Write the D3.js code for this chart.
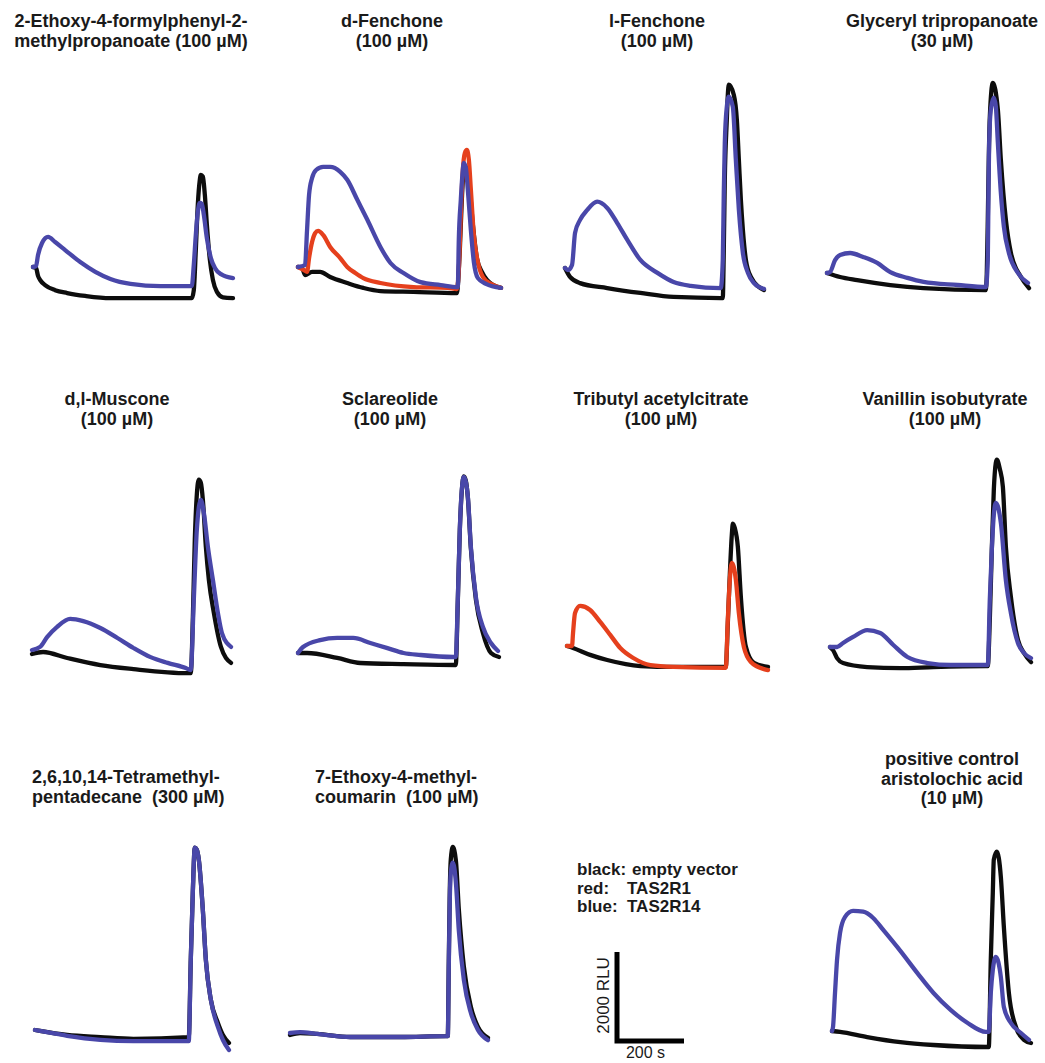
<!DOCTYPE html>
<html>
<head>
<meta charset="utf-8">
<script src="https://cdn.jsdelivr.net/npm/d3@7"></script>
<style>
  body { margin: 0; background: #fff; }
  text { font-family: "Liberation Sans", Arial, sans-serif; fill: #1a1a1a; white-space: pre; }
</style>
</head>
<body>
<svg id="chart" width="1045" height="1063"></svg>
<script>
// calcium traces, [time (s), signal (RLU) relative to first reading]
// black = empty vector, red = TAS2R1, blue = TAS2R14

// 2-Ethoxy-4-formylphenyl-2-methylpropanoate
const ethoxyFormylEmpty = [[0,0],[9,-20],[15,-200],[21,-290],[36,-405],[66,-520],[102,-585],[156,-650],[231,-700],[351,-700],[474,-700],[480,-520],[486,380],[492,1400],[498,1960],[501,2070],[507,2030],[513,1620],[519,950],[528,160],[537,-290],[549,-560],[567,-680],[597,-700]];
const ethoxyFormylR14 = [[0,0],[9,20],[15,270],[27,540],[45,675],[66,560],[96,380],[141,110],[186,-110],[231,-270],[291,-380],[381,-430],[474,-430],[480,50],[486,720],[492,1240],[498,1440],[504,1420],[510,1170],[519,650],[531,200],[543,-20],[561,-160],[597,-250]];

// d-Fenchone
const dFenchoneEmpty = [[0,0],[12,-20],[21,-180],[42,-110],[66,-110],[96,-225],[147,-360],[195,-470],[246,-540],[345,-560],[474,-585],[483,380],[489,1510],[495,2190],[501,2250],[510,1960],[522,950],[534,200],[549,-110],[564,-290],[582,-400],[606,-470]];
const dFenchoneR1 = [[0,0],[18,-70],[27,-110],[33,200],[42,560],[51,760],[60,810],[75,720],[96,450],[126,200],[147,0],[171,-135],[195,-250],[246,-360],[345,-450],[447,-470],[474,-495],[480,-70],[486,1170],[492,2180],[498,2560],[504,2630],[510,2410],[516,1740],[525,720],[537,110],[552,-225],[576,-380],[606,-470]];
const dFenchoneR14 = [[0,0],[21,45],[27,830],[33,1620],[42,2000],[54,2180],[75,2250],[96,2250],[126,2140],[147,1960],[177,1510],[207,1060],[246,450],[276,90],[315,-135],[366,-340],[426,-405],[477,-450],[480,610],[486,1510],[492,2180],[495,2340],[501,2230],[507,1730],[516,830],[525,110],[537,-250],[561,-380],[606,-470]];

// l-Fenchone
const lFenchoneEmpty = [[0,0],[15,-200],[45,-340],[126,-450],[225,-560],[324,-650],[465,-675],[471,-675],[474,405],[477,1980],[483,3330],[486,3890],[489,4120],[504,3890],[513,3330],[519,2430],[525,1530],[531,855],[540,180],[555,-200],[594,-495]];
const lFenchoneR14 = [[0,0],[9,-45],[21,70],[30,790],[45,1080],[66,1300],[96,1490],[126,1350],[156,1010],[186,630],[225,180],[276,-110],[324,-315],[375,-400],[465,-450],[471,180],[474,1690],[477,2810],[483,3620],[489,3850],[501,3620],[510,2430],[519,1310],[531,340],[546,-110],[564,-340],[594,-470]];

// Glyceryl tripropanoate
const glycerylEmpty = [[0,0],[39,-90],[90,-160],[189,-270],[288,-340],[474,-385],[477,0],[480,1200],[483,2600],[486,3500],[495,4270],[510,3670],[519,2540],[534,1190],[549,450],[579,-90],[603,-340]];
const glycerylR14 = [[0,0],[9,20],[24,290],[39,405],[69,450],[108,360],[150,225],[189,20],[240,-110],[288,-200],[390,-270],[474,-315],[480,290],[482,1800],[484,2900],[489,3670],[498,3940],[504,3740],[510,2930],[519,1800],[528,1040],[543,450],[570,0],[600,-225]];

// d,l-Muscone
const musconeEmpty = [[0,-90],[33,-45],[105,-180],[204,-340],[303,-430],[465,-520],[474,-520],[480,675],[486,2475],[492,3490],[498,3830],[504,3760],[510,3380],[519,2320],[528,1575],[543,830],[564,70],[594,-290]];
const musconeR14 = [[0,0],[24,70],[45,290],[75,520],[114,700],[153,650],[204,495],[255,270],[303,45],[354,-160],[405,-290],[459,-405],[474,-450],[483,1125],[492,2700],[504,3375],[513,3080],[525,2320],[540,1575],[555,830],[567,380],[594,70]];

// Sclareolide
const sclareolideEmpty = [[0,0],[27,0],[117,-110],[186,-225],[315,-250],[471,-270],[477,1150],[483,2750],[489,3650],[495,3970],[501,3870],[507,3500],[516,2350],[531,1200],[552,450],[576,0],[600,-90]];
const sclareolideR14 = [[0,0],[15,135],[66,290],[117,340],[165,340],[216,225],[267,110],[315,0],[366,-45],[465,-90],[471,-90],[477,1190],[483,2770],[489,3670],[495,3960],[501,3850],[507,3510],[516,2385],[531,1260],[552,585],[576,225],[597,45]];

// Tributyl acetylcitrate
const tributylEmpty = [[0,0],[18,-45],[69,-200],[120,-315],[219,-450],[318,-470],[474,-470],[480,500],[486,1600],[492,2500],[495,2750],[501,2650],[510,2230],[519,1100],[534,-20],[558,-380],[600,-470]];
const tributylR1 = [[0,0],[15,0],[18,290],[24,740],[39,900],[69,810],[99,540],[129,250],[159,-45],[198,-270],[249,-430],[318,-470],[474,-490],[480,585],[486,1485],[492,1870],[504,1490],[513,740],[528,-20],[549,-360],[588,-520],[600,-540]];

// Vanillin isobutyrate
const vanillinEmpty = [[0,0],[9,-70],[21,-250],[39,-360],[111,-450],[210,-475],[309,-450],[465,-430],[471,-430],[477,600],[483,2180],[489,3530],[495,4140],[498,4210],[507,4000],[516,3600],[525,2250],[540,1125],[561,160],[579,-135],[600,-340]];
const vanillinR14 = [[0,0],[21,0],[39,90],[69,225],[111,380],[150,315],[189,45],[231,-225],[291,-360],[360,-405],[471,-405],[477,1060],[483,2180],[489,2970],[495,3240],[510,2790],[525,1500],[540,760],[561,90],[579,-135],[600,-250]];

// 2,6,10,14-Tetramethylpentadecane
const tetramethylEmpty = [[0,0],[15,-20],[96,-110],[195,-160],[294,-200],[459,-160],[465,1575],[471,3080],[477,4095],[483,4050],[489,3825],[501,2700],[510,1575],[525,675],[546,160],[561,-110],[579,-290]];
const tetramethylR14 = [[0,0],[15,-20],[96,-130],[195,-220],[294,-250],[459,-250],[465,1575],[471,3080],[477,4095],[483,4050],[489,3825],[501,2700],[510,1575],[525,675],[546,70],[561,-225],[579,-450]];

// 7-Ethoxy-4-methylcoumarin
const coumarinEmpty = [[0,-45],[30,0],[81,-20],[180,-90],[330,-90],[465,-70],[471,-70],[474,1600],[477,3200],[480,3900],[486,4180],[495,3890],[504,2770],[519,1490],[540,585],[561,135],[591,-110]];
const coumarinR14 = [[0,0],[30,20],[81,-20],[180,-90],[330,-90],[465,-70],[471,-70],[474,1500],[477,3000],[480,3600],[486,3830],[495,3400],[504,2300],[519,1190],[540,450],[561,70],[591,-160]];

// positive control, aristolochic acid
const aristolochicEmpty = [[0,0],[24,-20],[105,-135],[204,-250],[303,-315],[465,-360],[468,-360],[474,1600],[480,3100],[483,3850],[492,4030],[504,3465],[513,2340],[528,855],[549,90],[573,-200],[594,-270]];
const aristolochicR14 = [[0,0],[3,90],[9,855],[15,1600],[24,2205],[39,2565],[63,2700],[93,2680],[123,2540],[153,2270],[204,1800],[255,1300],[303,855],[354,475],[405,180],[459,-20],[468,-20],[474,855],[480,1370],[489,1665],[504,1215],[513,540],[534,180],[564,-45],[588,-200]];

const titles = [
  ["2-Ethoxy-4-formylphenyl-2-", "methylpropanoate (100 µM)"],
  ["d-Fenchone", "(100 µM)"],
  ["l-Fenchone", "(100 µM)"],
  ["Glyceryl tripropanoate", "(30 µM)"],
  ["d,l-Muscone", "(100 µM)"],
  ["Sclareolide", "(100 µM)"],
  ["Tributyl acetylcitrate", "(100 µM)"],
  ["Vanillin isobutyrate", "(100 µM)"],
  ["2,6,10,14-Tetramethyl-", "pentadecane  (300 µM)"],
  ["7-Ethoxy-4-methyl-", "coumarin  (100 µM)"],
  ["positive control", "aristolochic acid", "(10 µM)"]
];

// [empty vector, TAS2R1, TAS2R14] per panel
const traces = [
  [ethoxyFormylEmpty, null, ethoxyFormylR14],
  [dFenchoneEmpty, dFenchoneR1, dFenchoneR14],
  [lFenchoneEmpty, null, lFenchoneR14],
  [glycerylEmpty, null, glycerylR14],
  [musconeEmpty, null, musconeR14],
  [sclareolideEmpty, null, sclareolideR14],
  [tributylEmpty, tributylR1, null],
  [vanillinEmpty, null, vanillinR14],
  [tetramethylEmpty, null, tetramethylR14],
  [coumarinEmpty, null, coumarinR14],
  [aristolochicEmpty, null, aristolochicR14]
];

const legendLines = [["black:", "empty vector"], ["red:", "TAS2R1"], ["blue:", "TAS2R14"]];
const scaleBar = { rlu: 2000, seconds: 200 };

// layout: trace origin (x, y) and title anchor
const layout = [
  {x: 33,  y: 267,  tx: 131, ty: 27,  anchor: "middle"},
  {x: 298, y: 267,  tx: 392, ty: 27,  anchor: "middle"},
  {x: 565, y: 268,  tx: 657, ty: 27,  anchor: "middle"},
  {x: 827, y: 273,  tx: 942, ty: 27,  anchor: "middle"},
  {x: 32,  y: 650,  tx: 117, ty: 405, anchor: "middle"},
  {x: 298, y: 653,  tx: 390, ty: 405, anchor: "middle"},
  {x: 567, y: 646,  tx: 661, ty: 405, anchor: "middle"},
  {x: 830, y: 647,  tx: 945, ty: 405, anchor: "middle"},
  {x: 35,  y: 1030, tx: 32,  ty: 783, anchor: "start"},
  {x: 290, y: 1033, tx: 315, ty: 783, anchor: "start"},
  {x: 832, y: 1031, tx: 952, ty: 765, anchor: "middle"}
];

const colors = ["#0d0d0d", "#e5401d", "#4947a9"];

const svg = d3.select("#chart");

// shared scales: 200 s = 67 px, 2000 RLU = 89 px
const x = d3.scaleLinear().domain([0, 200]).range([0, 67]);
const y = d3.scaleLinear().domain([0, 2000]).range([0, -89]);

const line = d3.line()
  .x(d => x(d[0]))
  .y(d => y(d[1]))
  .curve(d3.curveMonotoneX);

traces.forEach((set, i) => {
  const pos = layout[i];
  const g = svg.append("g").attr("transform", `translate(${pos.x},${pos.y})`);

  set.forEach((tr, k) => {
    if (!tr) return;
    g.append("path")
      .datum(tr)
      .attr("d", line)
      .attr("fill", "none")
      .attr("stroke", colors[k])
      .attr("stroke-width", 4.3)
      .attr("stroke-linejoin", "round")
      .attr("stroke-linecap", "round");
  });

  svg.append("text")
    .attr("x", pos.tx)
    .attr("y", pos.ty)
    .attr("text-anchor", pos.anchor)
    .style("font-size", "18px")
    .style("font-weight", "bold")
    .selectAll("tspan")
    .data(titles[i])
    .enter()
    .append("tspan")
      .attr("x", pos.tx)
      .attr("dy", (d, j) => j === 0 ? 0 : 19.5)
      .text(d => d);
});

// legend
const legend = svg.append("g").attr("transform", "translate(577,875)");
legend.selectAll("text")
  .data(legendLines)
  .enter()
  .append("text")
    .attr("y", (d, i) => i * 18.5)
    .style("font-size", "17px")
    .style("font-weight", "bold")
    .each(function(d) {
      const t = d3.select(this);
      t.append("tspan").attr("x", 0).text(d[0]);
      t.append("tspan").attr("x", d[0] === "black:" ? 55 : 50).text(d[1]);
    });

// scale bar
const bar = svg.append("g").attr("transform", "translate(617,1041)");
bar.append("path")
  .attr("d", `M${x(0)},${y(scaleBar.rlu)}V${y(0)}H${x(scaleBar.seconds)}`)
  .attr("fill", "none")
  .attr("stroke", "#000")
  .attr("stroke-width", 5)
  .attr("stroke-linejoin", "miter");
bar.append("text")
  .attr("transform", `translate(-8,${y(scaleBar.rlu / 2) - 1}) rotate(-90)`)
  .attr("text-anchor", "middle")
  .style("font-size", "17px")
  .text(scaleBar.rlu + " RLU");
bar.append("text")
  .attr("x", x(scaleBar.seconds / 2) - 5)
  .attr("y", 17)
  .attr("text-anchor", "middle")
  .style("font-size", "16px")
  .text(scaleBar.seconds + " s");
</script>
</body>
</html>
